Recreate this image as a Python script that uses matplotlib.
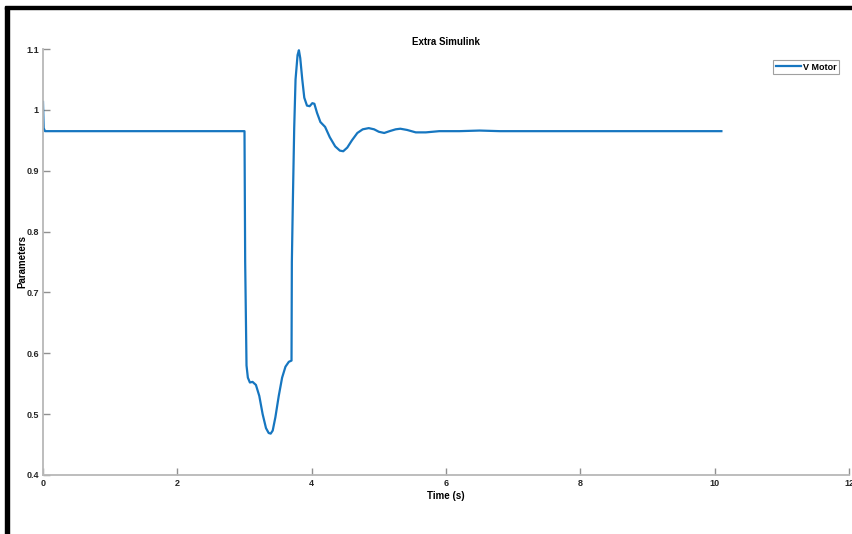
import matplotlib
matplotlib.use("Agg")
import matplotlib.pyplot as plt
from matplotlib.patches import Rectangle

plt.rcParams['font.family'] = ['Liberation Sans', 'DejaVu Sans']
plt.rcParams['font.weight'] = 'bold'

# V Motor trace
time_s = [0, 0.01, 0.03, 3.0, 3.01, 3.03, 3.05, 3.08, 3.12, 3.17, 3.22, 3.27, 3.32,
          3.36, 3.39, 3.42, 3.46, 3.51, 3.56, 3.61, 3.66, 3.70, 3.705, 3.72, 3.74,
          3.76, 3.79, 3.81, 3.83, 3.86, 3.89, 3.93, 3.97, 4.01, 4.04, 4.08, 4.13,
          4.2, 4.27, 4.35, 4.42, 4.47, 4.53, 4.6, 4.68, 4.76, 4.85, 4.93, 5.0,
          5.08, 5.16, 5.25, 5.32, 5.42, 5.55, 5.7, 5.9, 6.2, 6.5, 6.8, 10.1]
v_motor = [1.013, 0.97, 0.965, 0.965, 0.75, 0.58, 0.56, 0.552, 0.553, 0.548, 0.53,
           0.50, 0.477, 0.469, 0.468, 0.473, 0.495, 0.53, 0.56, 0.578, 0.586, 0.588,
           0.75, 0.85, 0.97, 1.05, 1.09, 1.098, 1.085, 1.05, 1.02, 1.007, 1.006,
           1.011, 1.01, 0.995, 0.98, 0.972, 0.955, 0.94, 0.933, 0.932, 0.938, 0.95,
           0.962, 0.968, 0.97, 0.968, 0.964, 0.962, 0.965, 0.968, 0.969, 0.967,
           0.963, 0.963, 0.965, 0.965, 0.966, 0.965, 0.965]

xticks = [0, 2, 4, 6, 8, 10, 12]
yticks = [0.4, 0.5, 0.6, 0.7, 0.8, 0.9, 1, 1.1]
ytick_labels = ['0.4', '0.5', '0.6', '0.7', '0.8', '0.9', '1', '1.1']

fig = plt.figure(figsize=(8.52, 5.34), dpi=100)
ax = fig.add_axes([43 / 852, 59 / 534, 806 / 852, 426 / 534])

ax.plot(time_s, v_motor, color='#1676c0', lw=1.6, label='V Motor')
ax.set_xlim(0, 12)
ax.set_ylim(0.4, 1.1)
ax.set_xticks(xticks)
ax.set_yticks(yticks)
ax.set_yticklabels(ytick_labels)

for side in ['top', 'right']:
    ax.spines[side].set_visible(False)
for side in ['left', 'bottom']:
    ax.spines[side].set_color('#b8b8b8')
    ax.spines[side].set_linewidth(1.3)
ax.tick_params(direction='in', length=5, width=1, color='#909090',
               labelsize=6.5, labelcolor='#262626', pad=3)

ax.set_title('Extra Simulink', fontsize=7, fontweight='bold', pad=3)
ax.set_xlabel('Time (s)', fontsize=7, fontweight='bold', labelpad=2)
ax.set_ylabel('Parameters', fontsize=7, fontweight='bold')
ax.yaxis.set_label_coords(-0.02, 0.5)

leg = ax.legend(loc='upper right', bbox_to_anchor=(0.9935, 0.985), fontsize=6.5,
                handlelength=2.8, handletextpad=0.2, borderpad=0.3, fancybox=False,
                framealpha=1, edgecolor='#a0a0a0')
leg.get_frame().set_linewidth(0.8)

# screenshot border (left and top)
fig.patches.append(Rectangle((5 / 852, 0), 4 / 852, 527 / 534, transform=fig.transFigure,
                             color='black', zorder=10))
fig.patches.append(Rectangle((5 / 852, 525 / 534), 847 / 852, 3 / 534, transform=fig.transFigure,
                             color='black', zorder=10))

fig.savefig('out.png', dpi=100)
